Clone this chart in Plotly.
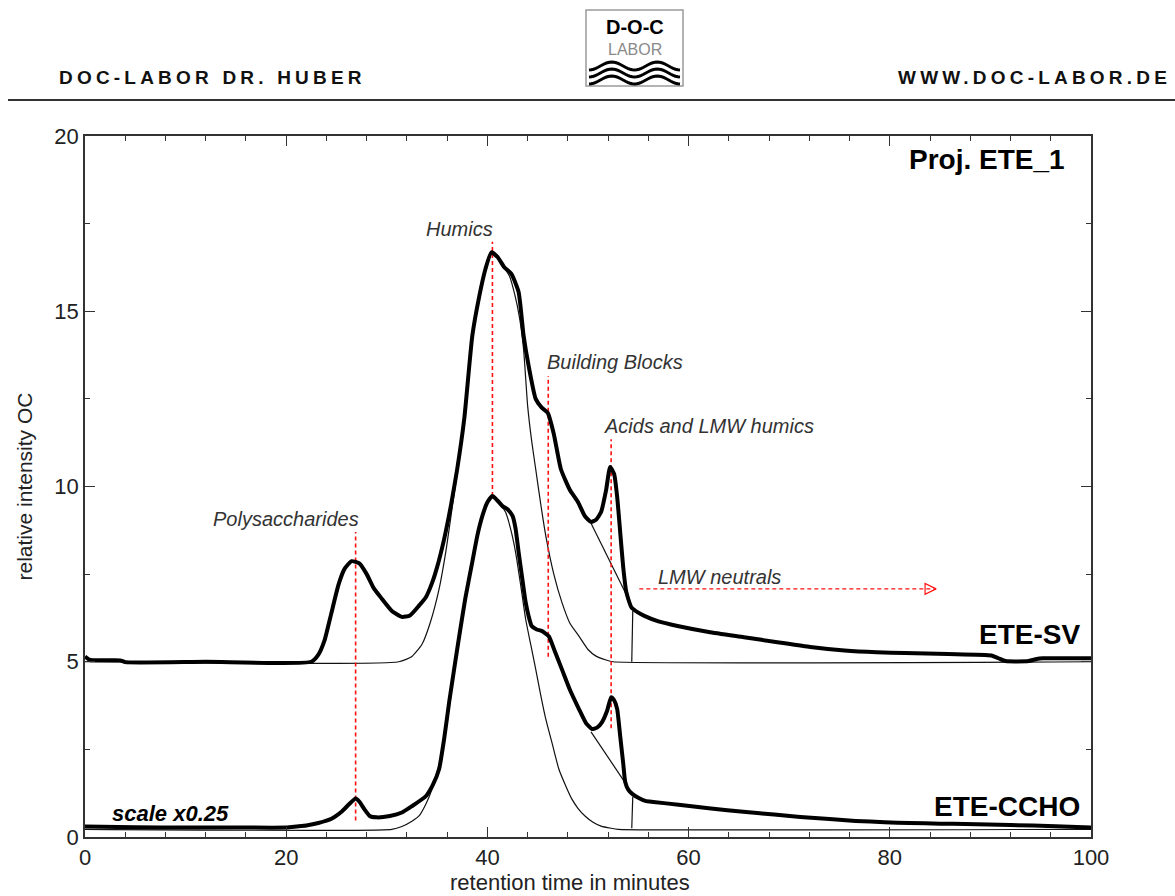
import math
import plotly.graph_objects as go

# ---------------- data ----------------
# ETE-SV sample, thick measured trace (offset +5)
sv_x = [0, 0.5, 3.5, 4, 12, 22.5, 23.2, 23.8, 24.5, 25.2, 25.8, 26.5, 27.3, 28.0, 28.7, 29.5,
        30.5, 31.5, 32.3, 33.2, 33.9, 34.5, 35.0, 35.7, 36.4, 37.0, 37.7, 38.5, 39.2, 39.8,
        40.4, 41.0, 41.7, 42.4, 43.1, 43.6, 44.1, 44.8, 45.4, 46.0, 46.6, 47.3, 48.2, 49.0,
        49.7, 50.3, 50.8, 51.3, 51.8, 52.2, 52.6, 52.9, 53.2, 53.5, 53.8, 54.3, 55.0, 55.6,
        57.0, 58.9, 62.0, 65.5, 69.0, 72.1, 75.5, 78.7, 81.5, 85.8, 90.1, 90.8, 91.5, 93.8,
        94.6, 95.2, 100.0]
sv_y = [5.15, 5.05, 5.04, 4.99, 5.0, 5.0, 5.2, 5.6, 6.4, 7.2, 7.65, 7.87, 7.8, 7.5, 7.1, 6.8,
        6.45, 6.28, 6.32, 6.6, 6.85, 7.25, 7.7, 8.5, 9.5, 10.5, 11.93, 14.3, 15.44, 16.2,
        16.68, 16.55, 16.25, 16.06, 15.55, 14.3, 13.44, 12.5, 12.25, 12.1, 11.5, 10.5, 9.9, 9.56,
        9.15, 8.99, 9.05, 9.27, 9.9, 10.56, 10.35, 9.7, 8.7, 7.7, 7.0, 6.56, 6.4, 6.31,
        6.15, 6.02, 5.85, 5.7, 5.55, 5.42, 5.32, 5.27, 5.25, 5.22, 5.18, 5.1, 5.02, 5.02,
        5.08, 5.1, 5.1]

# ETE-SV humic fit (thin)
sv_fit_x = [0, 31.2, 32.5, 33.5, 34.3, 35.2, 35.9, 36.5, 37.0, 37.7, 38.5, 39.2, 39.8, 40.4,
            41.2, 42.2, 42.7, 43.2, 43.6, 44.0, 44.4, 44.8, 45.3, 45.8, 46.6, 47.4, 48.2,
            49.1, 50.0, 50.8, 51.8, 52.5, 100]
sv_fit_y = [5.0, 5.0, 5.15, 5.5, 6.1, 7.08, 8.2, 9.4, 10.4, 11.93, 14.3, 15.44, 16.2, 16.68,
            16.45, 16.0, 15.5, 14.8, 13.9, 12.3, 11.3, 10.5, 9.5, 8.6, 7.5, 6.7, 6.1,
            5.73, 5.35, 5.16, 5.05, 5.0, 5.0]
# ETE-SV acid tangent and cut
sv_acid_x = [50.3, 54.1]
sv_acid_y = [8.95, 6.75]
sv_cut_x = [54.45, 54.35]
sv_cut_y = [6.45, 5.0]

# ETE-CCHO sample, thick measured trace (scale x0.25)
cc_x = [0, 5, 10, 15, 20, 21, 22, 23.2, 24.5, 25.5, 26.2, 26.9, 27.3, 27.8, 28.3, 29.0, 30.3,
        31.5, 32.5, 33.9, 34.6, 35.2, 35.7, 36.2, 36.7, 37.2, 37.8, 38.5, 39.0, 39.5, 40.0,
        40.5, 41.0, 41.5, 42.0, 42.5, 42.8, 43.1, 43.5, 43.8, 44.1, 44.4, 44.9, 45.4, 46.1,
        46.7, 47.4, 48.2, 49.1, 49.8, 50.4, 50.9, 51.4, 51.9, 52.3, 52.6, 52.9, 53.2, 53.5,
        53.7, 54.0, 54.4, 55.0, 55.7, 56.5, 59.0, 62.0, 65.7, 68.5, 71.1, 74.0, 76.6, 79.5,
        82.0, 85.0, 87.5, 92.0, 96.5, 100.0]
cc_y = [0.3, 0.28, 0.27, 0.27, 0.27, 0.3, 0.33, 0.4, 0.52, 0.72, 0.92, 1.1, 1.0, 0.78, 0.6,
        0.56, 0.6, 0.7, 0.88, 1.17, 1.5, 1.94, 2.8, 3.85, 4.8, 5.73, 6.8, 7.85, 8.6, 9.16,
        9.55, 9.73, 9.6, 9.44, 9.35, 9.16, 8.8, 8.13, 7.3, 6.7, 6.3, 6.02, 5.92, 5.88, 5.73,
        5.3, 4.79, 4.2, 3.65, 3.25, 3.08, 3.12, 3.28, 3.6, 3.99, 3.9, 3.65, 2.88, 2.1,
        1.57, 1.35, 1.23, 1.12, 1.03, 1.0, 0.92, 0.82, 0.71, 0.64, 0.57, 0.51, 0.46, 0.42,
        0.40, 0.38, 0.37, 0.34, 0.31, 0.27]

# ETE-CCHO humic fit (thin)
cc_fit_x = [0, 30.5, 31.5, 32.5, 33.2, 33.9, 34.5, 35.0, 35.5, 36.0, 36.5, 37.2, 37.8, 38.5,
            39.0, 39.5, 40.0, 40.5, 41.1, 41.8, 42.3, 42.8, 43.3, 43.8, 44.3, 44.8, 45.3,
            45.8, 46.5, 47.1, 47.8, 48.4, 49.0, 49.7, 50.5, 51.3, 52.3, 53.0, 100]
cc_fit_y = [0.22, 0.22, 0.3, 0.45, 0.6, 0.95, 1.37, 1.85, 2.42, 3.3, 4.31, 5.73, 6.8, 7.85,
            8.6, 9.16, 9.55, 9.73, 9.55, 9.27, 8.8, 8.13, 7.2, 6.22, 5.5, 4.79, 4.05,
            3.37, 2.6, 1.94, 1.45, 1.08, 0.82, 0.6, 0.42, 0.31, 0.25, 0.22, 0.22]
cc_acid_x = [50.3, 53.9]
cc_acid_y = [3.0, 1.46]
cc_cut_x = [54.45, 54.35]
cc_cut_y = [1.15, 0.25]

# fraction markers (red dashed verticals)
frac_names = ["Polysaccharides", "Humics", "Building Blocks", "Acids and LMW humics"]
frac_x = [26.9, 40.5, 46.05, 52.3]
frac_top = [8.7, 16.98, 13.15, 11.35]
frac_bottom = [0.47, 9.73, 5.14, 3.1]
# label anchor points
frac_label_x = [20.0, 37.2, 45.7, 51.4]
frac_label_y = [9.07, 17.35, 13.55, 11.73]
frac_label_anchor = ["center", "center", "left", "left"]

# LMW neutrals arrow
lmw_x = [55.1, 84.6]
lmw_y = [7.08, 7.08]

x_ticks = [0, 20, 40, 60, 80, 100]
y_ticks = [0, 5, 10, 15, 20]

# ---------------- layout geometry ----------------
W, H = 1175, 896
L, R, T, B = 85, 84, 136, 59
PW, PH = W - L - R, H - T - B
FONT = "Liberation Sans, Arial, sans-serif"
INK = "#222222"
RED = "#ff1010"


def px(p):
    return (p - L) / PW


def py(p):
    return (H - B - p) / PH


fig = go.Figure()

thin = dict(color="#111111", width=1.2, shape="spline", smoothing=0.5)
thin_straight = dict(color="#111111", width=1.2)
thick = dict(color="#000000", width=4, shape="spline", smoothing=0.5)

for xs, ys in [(sv_fit_x, sv_fit_y), (cc_fit_x, cc_fit_y)]:
    fig.add_trace(go.Scatter(x=xs, y=ys, mode="lines", line=thin, hoverinfo="skip"))
for xs, ys in [(sv_acid_x, sv_acid_y), (sv_cut_x, sv_cut_y),
               (cc_acid_x, cc_acid_y), (cc_cut_x, cc_cut_y)]:
    fig.add_trace(go.Scatter(x=xs, y=ys, mode="lines", line=thin_straight, hoverinfo="skip"))

for i in range(len(frac_x)):
    fig.add_trace(go.Scatter(x=[frac_x[i], frac_x[i]], y=[frac_bottom[i], frac_top[i]],
                             mode="lines", line=dict(color=RED, width=1.6, dash="4px,3px"),
                             hoverinfo="skip"))

for xs, ys in [(sv_x, sv_y), (cc_x, cc_y)]:
    fig.add_trace(go.Scatter(x=xs, y=ys, mode="lines", line=thick, hoverinfo="skip"))

fig.add_trace(go.Scatter(x=lmw_x, y=lmw_y, mode="lines",
                         line=dict(color=RED, width=1.4, dash="4px,3px"), hoverinfo="skip"))
fig.add_trace(go.Scatter(x=[lmw_x[-1]], y=[lmw_y[-1]], mode="markers",
                         marker=dict(symbol="arrow-right-open", size=11, color=RED,
                                     line=dict(color=RED, width=1.2)), hoverinfo="skip"))

ann = []
lab_font = dict(family=FONT, size=20, color="#333333")
for i, name in enumerate(frac_names):
    ann.append(dict(x=frac_label_x[i], y=frac_label_y[i], xref="x", yref="y",
                    text="<i>%s</i>" % name, showarrow=False, font=lab_font,
                    xanchor=frac_label_anchor[i], yanchor="middle"))
ann.append(dict(x=56.8, y=7.42, xref="x", yref="y", text="<i>LMW neutrals</i>",
                showarrow=False, font=lab_font, xanchor="left", yanchor="middle"))

big = dict(family=FONT, size=28, color="#000000")
ann.append(dict(x=99.1, y=5.79, xref="x", yref="y", text="<b>ETE-SV</b>", showarrow=False,
                font=big, xanchor="right", yanchor="middle"))
ann.append(dict(x=99.1, y=0.86, xref="x", yref="y", text="<b>ETE-CCHO</b>", showarrow=False,
                font=big, xanchor="right", yanchor="middle"))
ann.append(dict(x=97.6, y=19.32, xref="x", yref="y", text="<b>Proj. ETE_1</b>", showarrow=False,
                font=big, xanchor="right", yanchor="middle"))
ann.append(dict(x=2.5, y=0.68, xref="x", yref="y", text="<b><i>scale x0.25</i></b>",
                showarrow=False, font=dict(family=FONT, size=22, color="#000000"),
                xanchor="left", yanchor="middle"))

# axis titles
ann.append(dict(x=px(570), y=py(882), xref="paper", yref="paper",
                text="retention time in minutes", showarrow=False,
                font=dict(family=FONT, size=22, color=INK), xanchor="center", yanchor="middle"))
ann.append(dict(x=px(24), y=0.5, xref="paper", yref="paper", text="relative intensity OC",
                showarrow=False, textangle=-90,
                font=dict(family=FONT, size=21, color=INK), xanchor="center", yanchor="middle"))

# header
hdr_font = dict(family=FONT, size=19, color="#111111")
ann.append(dict(x=px(57), y=py(78), xref="paper", yref="paper",
                text='<b><span style="letter-spacing:4.2px">DOC-LABOR DR. HUBER</span></b>',
                showarrow=False, font=hdr_font, xanchor="left", yanchor="middle"))
ann.append(dict(x=px(1173), y=py(78), xref="paper", yref="paper",
                text='<b><span style="letter-spacing:4.2px">WWW.DOC-LABOR.DE</span></b>',
                showarrow=False, font=hdr_font, xanchor="right", yanchor="middle"))
# logo texts
ann.append(dict(x=px(634.5), y=py(27), xref="paper", yref="paper", text="<b>D-O-C</b>",
                showarrow=False, font=dict(family=FONT, size=20, color="#000000"),
                xanchor="center", yanchor="middle"))
ann.append(dict(x=px(634.5), y=py(50), xref="paper", yref="paper", text="LABOR",
                showarrow=False, font=dict(family=FONT, size=16, color="#8a8a8a"),
                xanchor="center", yanchor="middle"))

shapes = []
# header rule
shapes.append(dict(type="line", xref="paper", yref="paper", x0=px(8), x1=px(1175),
                   y0=py(100), y1=py(100), line=dict(color="#333333", width=2)))
# logo frame
shapes.append(dict(type="rect", xref="paper", yref="paper", x0=px(586), x1=px(683),
                   y0=py(86), y1=py(10), line=dict(color="#9a9a9a", width=1.5),
                   fillcolor="white"))
# logo waves
for k in range(3):
    base = 66 + k * 7
    pts = []
    for j in range(41):
        xx = 589 + j * (91 / 40)
        yy = base + 4.0 * math.sin(2 * math.pi * j / 20 + math.pi / 2)
        pts.append((px(xx), py(yy)))
    path = "M %f,%f " % pts[0] + " ".join("L %f,%f" % p for p in pts[1:])
    shapes.append(dict(type="path", xref="paper", yref="paper", path=path,
                       line=dict(color="#000000", width=3)))

axis_common = dict(showline=True, linecolor="#333333", linewidth=1.5, mirror="ticks",
                   ticks="inside", tickcolor="#333333", tickwidth=1.2, ticklen=10,
                   showgrid=False, zeroline=False,
                   tickfont=dict(family=FONT, size=22, color=INK))

fig.update_layout(
    width=W, height=H,
    margin=dict(l=L, r=R, t=T, b=B, pad=0),
    paper_bgcolor="white", plot_bgcolor="white",
    showlegend=False,
    xaxis=dict(range=[0, 100], tickvals=x_ticks,
               minor=dict(dtick=4, tick0=0, ticks="inside", ticklen=5, tickcolor="#333333",
                          tickwidth=1.1),
               **axis_common),
    yaxis=dict(range=[0, 20], tickvals=y_ticks,
               minor=dict(dtick=2.5, tick0=0, ticks="inside", ticklen=5, tickcolor="#333333",
                          tickwidth=1.1),
               **axis_common),
    annotations=ann,
    shapes=shapes,
)

fig.write_html("out.html")
